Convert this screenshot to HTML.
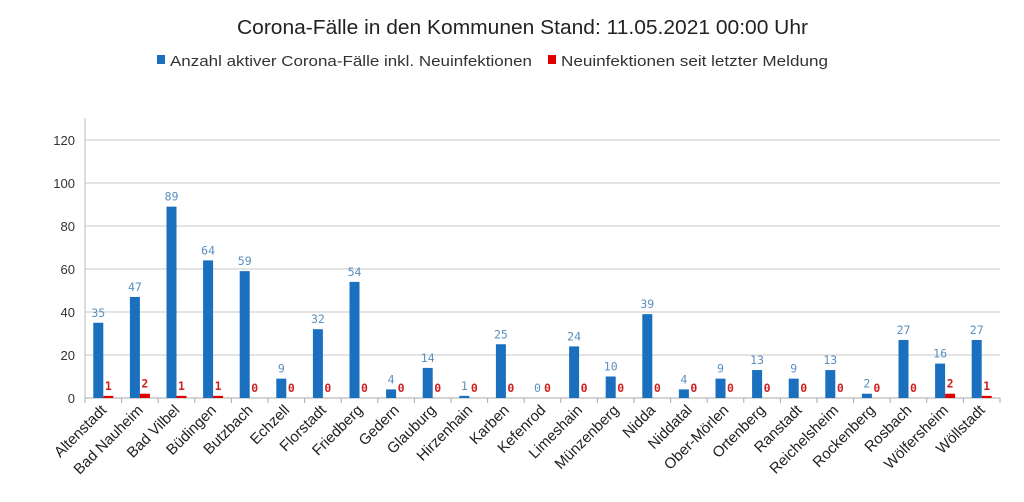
<!DOCTYPE html>
<html><head><meta charset="utf-8"><style>body{margin:0;background:#fff}svg{display:block}</style></head><body>
<svg width="1024" height="502" xmlns="http://www.w3.org/2000/svg" font-family="Liberation Sans, sans-serif">
<rect width="1024" height="502" fill="#fff"/>
<text x="237" y="34" textLength="571" lengthAdjust="spacingAndGlyphs" font-size="20" fill="#222">Corona-Fälle in den Kommunen Stand: 11.05.2021 00:00 Uhr</text>
<rect x="157" y="55" width="8" height="9" fill="#1a6fbf"/>
<text x="170" y="66" textLength="362" lengthAdjust="spacingAndGlyphs" font-size="15" fill="#333">Anzahl aktiver Corona-Fälle inkl. Neuinfektionen</text>
<rect x="548" y="55" width="8" height="9" fill="#e00000"/>
<text x="561" y="66" textLength="267" lengthAdjust="spacingAndGlyphs" font-size="15" fill="#333">Neuinfektionen seit letzter Meldung</text>
<g id="g"></g>
</svg>
<script>
const g=document.getElementById('g');
const names=["Altenstadt","Bad Nauheim","Bad Vilbel","Büdingen","Butzbach","Echzell","Florstadt","Friedberg","Gedern","Glauburg","Hirzenhain","Karben","Kefenrod","Limeshain","Münzenberg","Nidda","Niddatal","Ober-Mörlen","Ortenberg","Ranstadt","Reichelsheim","Rockenberg","Rosbach","Wölfersheim","Wöllstadt"];
const b=[35,47,89,64,59,9,32,54,4,14,1,25,0,24,10,39,4,9,13,9,13,2,27,16,27];
const r=[1,2,1,1,0,0,0,0,0,0,0,0,0,0,0,0,0,0,0,0,0,0,0,2,1];
let s='';
const x0=85,x1=1000,y0=398,k=258/120,w=(x1-x0)/25;
for(let v=0;v<=120;v+=20){const y=y0-v*k;
 s+=`<line x1="${x0}" x2="${x1}" y1="${y}" y2="${y}" stroke="#c8c8c8"/>`;
 s+=`<text x="75" y="${y+5}" text-anchor="end" font-size="13" fill="#333">${v}</text>`;}
s+=`<line x1="${x0}" x2="${x0}" y1="118" y2="${y0}" stroke="#bbb"/>`;
s+=`<line x1="${x0}" x2="${x1}" y1="${y0}" y2="${y0}" stroke="#aaa"/>`;
for(let i=0;i<=25;i++){const x=x0+i*w;s+=`<line x1="${x}" x2="${x}" y1="${y0}" y2="${y0+5}" stroke="#aaa"/>`;}
for(let i=0;i<25;i++){const cx=x0+i*w, bx=cx+8.3, rx=bx+10;
 const bh=b[i]*k, rh=r[i]*k;
 s+=`<rect x="${bx}" y="${y0-bh}" width="10" height="${bh}" fill="#1a6fbf"/>`;
 if(rh>0)s+=`<rect x="${rx}" y="${y0-rh}" width="10" height="${rh}" fill="#e00000"/>`;
 s+=`<text x="${bx+5}" y="${y0-bh-6}" text-anchor="middle" font-size="11.5" font-family="DejaVu Sans Mono, monospace" fill="#5a8fc0">${b[i]}</text>`;
 s+=`<text x="${rx+5}" y="${y0-rh-6}" text-anchor="middle" font-size="11.5" font-weight="bold" font-family="DejaVu Sans Mono, monospace" fill="#d02020">${r[i]}</text>`;
 const lx=cx+w/2+4, ly=y0+13;
 s+=`<text x="${lx}" y="${ly}" text-anchor="end" font-size="15" fill="#222" transform="rotate(-45 ${lx} ${ly})">${names[i]}</text>`;
}
g.innerHTML=s;
</script>
</body></html>
